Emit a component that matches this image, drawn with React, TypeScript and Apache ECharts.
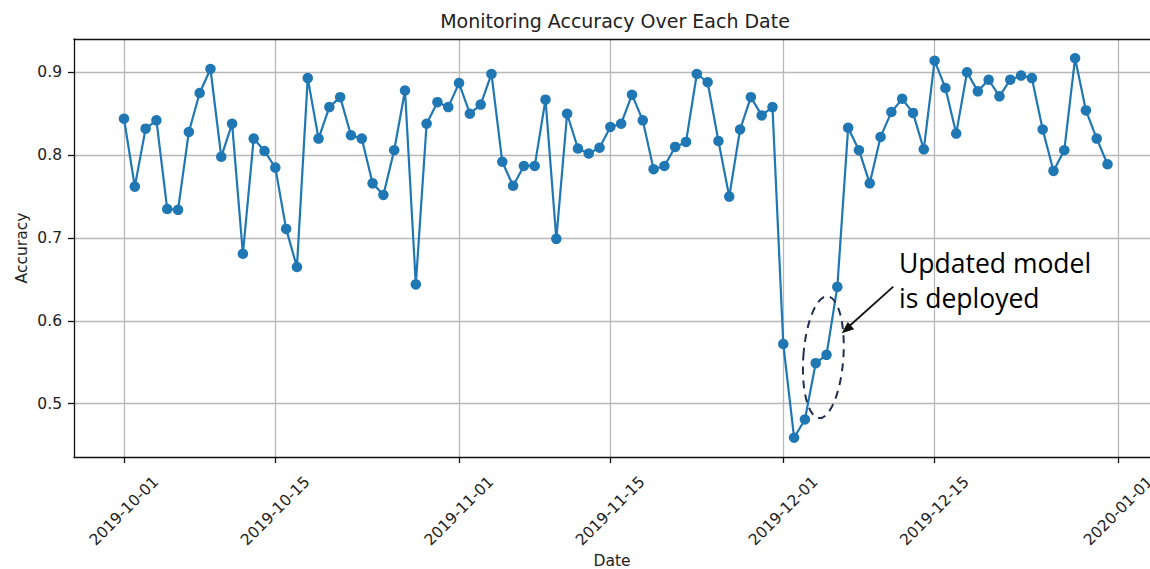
import React, { useEffect, useRef } from "react";
import * as echarts from "echarts";

// Daily monitoring accuracy, 2019-10-01 .. 2019-12-31
const startDate = "2019-10-01";
const accuracy = [
  0.844, 0.762, 0.832, 0.842, 0.735, 0.734, 0.828, 0.875, 0.904, 0.798,
  0.838, 0.681, 0.820, 0.805, 0.785, 0.711, 0.665, 0.893, 0.820, 0.858,
  0.870, 0.824, 0.820, 0.766, 0.752, 0.806, 0.878, 0.644, 0.838, 0.864,
  0.858, 0.887, 0.850, 0.861, 0.898, 0.792, 0.763, 0.787, 0.787, 0.867,
  0.699, 0.850, 0.808, 0.802, 0.809, 0.834, 0.838, 0.873, 0.842, 0.783,
  0.787, 0.810, 0.816, 0.898, 0.888, 0.817, 0.750, 0.831, 0.870, 0.848,
  0.858, 0.572, 0.459, 0.481, 0.549, 0.559, 0.641, 0.833, 0.806, 0.766,
  0.822, 0.852, 0.868, 0.851, 0.807, 0.914, 0.881, 0.826, 0.900, 0.877,
  0.891, 0.871, 0.891, 0.896, 0.893, 0.831, 0.781, 0.806, 0.917, 0.854,
  0.820, 0.789,
];
const xTickLabels = [
  "2019-10-01",
  "2019-10-15",
  "2019-11-01",
  "2019-11-15",
  "2019-12-01",
  "2019-12-15",
  "2020-01-01",
];
const yTickValues = [0.5, 0.6, 0.7, 0.8, 0.9];
const titleText = "Monitoring Accuracy Over Each Date";
const xName = "Date";
const yName = "Accuracy";
const noteLines = ["Updated model", "is deployed"];

const DAY = 86400000;
const parseUTC = (s: string) => {
  const [y, m, d] = s.split("-").map(Number);
  return Date.UTC(y, m - 1, d);
};
const pad = (n: number) => (n < 10 ? "0" + n : "" + n);
const fmtUTC = (t: number) => {
  const d = new Date(t);
  return d.getUTCFullYear() + "-" + pad(d.getUTCMonth() + 1) + "-" + pad(d.getUTCDate());
};

export default function App() {
  const ref = useRef<HTMLDivElement>(null);
  useEffect(() => {
    document.body.style.margin = "0";
    const chart = echarts.init(ref.current!, null, { renderer: "svg" });
    const start = parseUTC(startDate);
    // x values are days since the start date
    const dayOf = (s: string) => Math.round((parseUTC(s) - start) / DAY);
    const dayLabel = (v: number) => fmtUTC(start + Math.round(v) * DAY);
    const tickDays = xTickLabels.map(dayOf);
    const font = "DejaVu Sans";
    const textColor = "#222";
    const gridColor = "#b8b8b8";

    chart.setOption({
      animation: false,
      backgroundColor: "#fff",
      title: {
        text: titleText,
        left: 615,
        textAlign: "center",
        top: 11,
        padding: 0,
        textStyle: { fontFamily: font, fontSize: 19, fontWeight: "normal", color: textColor },
      },
      tooltip: { show: false },
      grid: { left: 74, top: 39, right: 0, height: 418, containLabel: false, outerBoundsMode: "none" },
      xAxis: [
        {
          type: "value",
          min: -4.626,
          max: 94.93,
          name: xName,
          nameLocation: "middle",
          nameGap: 96,
          nameMoveOverlap: false,
          nameTextStyle: { fontFamily: font, fontSize: 15.5, color: textColor, verticalAlign: "top" },
          axisLine: { show: true, onZero: false, lineStyle: { color: "#111", width: 1.3 } },
          axisTick: { show: true, length: 6, customValues: tickDays, lineStyle: { color: "#111", width: 1.3 } },
          axisLabel: {
            customValues: tickDays,
            rotate: 45,
            align: "center",
            verticalAlign: "middle",
            margin: 54,
            fontFamily: font,
            fontSize: 15.5,
            color: textColor,
            formatter: (v: number) => dayLabel(v),
          },
          splitLine: { show: true, lineStyle: { color: gridColor, width: 1.3 } },
        },
        {
          type: "value",
          position: "top",
          min: 0,
          max: 1,
          axisLine: { show: true, onZero: false, lineStyle: { color: "#111", width: 1.3 } },
          axisTick: { show: false },
          axisLabel: { show: false },
          splitLine: { show: false },
        },
      ],
      yAxis: {
        type: "value",
        min: 0.4357,
        max: 0.9402,
        name: yName,
        nameLocation: "middle",
        nameGap: 44,
        nameMoveOverlap: false,
        nameTextStyle: { fontFamily: font, fontSize: 15.5, color: textColor },
        axisLine: { show: true, onZero: false, lineStyle: { color: "#111", width: 1.3 } },
        axisTick: { show: true, length: 6, customValues: yTickValues, lineStyle: { color: "#111", width: 1.3 } },
        axisLabel: {
          customValues: yTickValues,
          margin: 12,
          fontFamily: font,
          fontSize: 15.5,
          color: textColor,
          formatter: (v: number) => v.toFixed(1),
        },
        splitLine: { show: true, lineStyle: { color: gridColor, width: 1.3 } },
      },
      series: [
        {
          type: "line",
          xAxisIndex: 0,
          data: accuracy.map((v, i) => [i, v]),
          symbol: "circle",
          symbolSize: 10.5,
          showSymbol: true,
          lineStyle: { color: "#1f77b4", width: 2.2 },
          itemStyle: { color: "#1f77b4" },
          z: 3,
        },
      ],
      graphic: [
        {
          type: "ellipse",
          shape: { cx: 823, cy: 357, rx: 20, ry: 61 },
          rotation: -0.07,
          originX: 823,
          originY: 357,
          style: { fill: "none", stroke: "#1f2f52", lineWidth: 2, lineDash: [8, 6] },
          z: 10,
        },
        {
          type: "line",
          shape: { x1: 893.3, y1: 286.7, x2: 850, y2: 325.5 },
          style: { stroke: "#111", lineWidth: 1.8 },
          z: 10,
        },
        {
          type: "polygon",
          shape: { points: [[841.7, 333.3], [854.2, 329.2], [847.8, 322.0]] },
          style: { fill: "#111" },
          z: 10,
        },
        {
          type: "text",
          x: 899,
          y: 262.5,
          style: { text: noteLines[0], font: "26.5px 'Open Sans'", fill: "#000", textVerticalAlign: "middle" },
          z: 10,
        },
        {
          type: "text",
          x: 899,
          y: 297.5,
          style: { text: noteLines[1], font: "26.5px 'Open Sans'", fill: "#000", textVerticalAlign: "middle" },
          z: 10,
        },
      ],
    });
    return () => chart.dispose();
  }, []);
  return (
    <div
      ref={ref}
      style={{ position: "absolute", left: 0, top: 0, width: 1150, height: 569 }}
    />
  );
}
